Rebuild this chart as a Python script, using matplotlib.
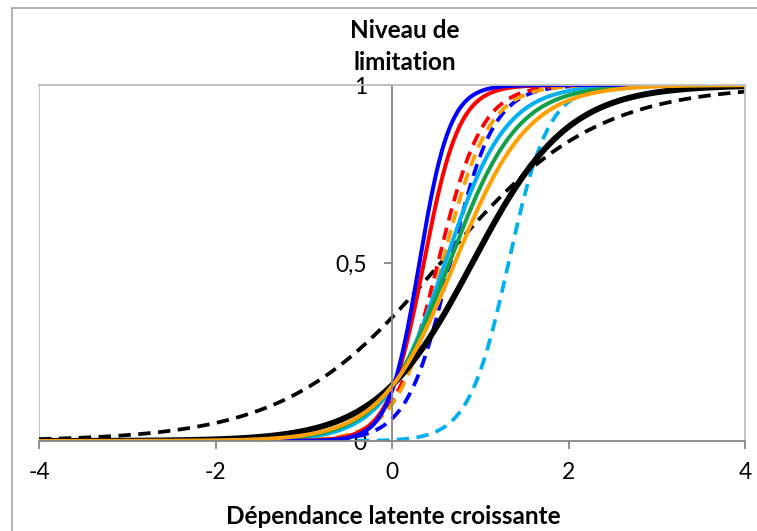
import numpy as np
import matplotlib
matplotlib.use("Agg")
import matplotlib.pyplot as plt
from matplotlib.lines import Line2D

plt.rcParams['font.family'] = ['Lato', 'DejaVu Sans']

# ---- data: item characteristic curves ----
curve_colors = ['#000000', '#00B0F0', '#0000FF', '#FF0000', '#FFA000',
                '#000000', '#00B0F0', '#12A04A', '#FF0000', '#0000FF', '#FFA000']
curve_styles = ['dashed', 'dashed', 'dashed', 'dashed', 'dashed',
                'solid', 'solid', 'solid', 'solid', 'solid', 'solid']
discrimination = [1.15, 4.4, 4.1, 4.0, 3.8, 1.85, 2.9, 2.6, 5.0, 5.8, 2.4]
difficulty = [0.55, 1.32, 0.66, 0.52, 0.57, 0.91, 0.60, 0.65, 0.36, 0.31, 0.71]

x_ticks = [-4, -2, 0, 2, 4]
x_tick_labels = ['-4', '-2', '0', '2', '4']
y_ticks = [0, 0.5, 1]
y_tick_labels = ['0', '0,5', '1']

W, H = 757, 531
fig = plt.figure(figsize=(W / 100, H / 100), dpi=100)
ax = fig.add_axes([39 / W, 1 - 441 / H, (745 - 39) / W, (441 - 85) / H])

theta = np.linspace(-4, 4, 801)
for col, st, a, b in zip(curve_colors, curve_styles, discrimination, difficulty):
    p = 1.0 / (1.0 + np.exp(-a * (theta - b)))
    if st == 'dashed':
        ax.plot(theta, p, color=col, lw=2.7, linestyle=(0, (3.3, 2.0)),
                dash_capstyle='butt')
    else:
        lw = 4.3 if col == '#000000' else 2.9
        ax.plot(theta, p, color=col, lw=lw, solid_capstyle='round')

ax.set_xlim(-4, 4)
ax.set_ylim(0, 1)

# spines
ax.spines['left'].set_position(('data', 0))
ax.spines['left'].set_color('#868686')
ax.spines['left'].set_linewidth(1.3)
ax.spines['bottom'].set_color('#868686')
ax.spines['bottom'].set_linewidth(1.3)
ax.spines['top'].set_color('#BFBFBF')
ax.spines['right'].set_color('#BFBFBF')
ax.spines['top'].set_linewidth(1.3)
ax.spines['right'].set_linewidth(1.3)
ax.axvline(-4, color='#BFBFBF', lw=1.3, zorder=0)

ax.set_xticks(x_ticks)
ax.set_xticklabels(x_tick_labels)
ax.set_yticks(y_ticks)
ax.set_yticklabels(y_tick_labels)
ax.tick_params(axis='x', direction='out', length=6, width=1.3, color='#868686',
               labelsize=16.5, pad=9)
ax.tick_params(axis='y', direction='out', length=6, width=1.3, color='#868686',
               labelsize=16.5, pad=12)

# titles
fig.text(405 / W, 1 - 31 / H, 'Niveau de', ha='center', va='center',
         fontsize=17.5, fontweight='bold')
fig.text(405 / W, 1 - 63 / H, 'limitation', ha='center', va='center',
         fontsize=17.5, fontweight='bold')
fig.text(393 / W, 1 - 517 / H, 'Dépendance latente croissante', ha='center',
         va='center', fontsize=17.5, fontweight='bold')

# chart area border (left and top visible)
fig.add_artist(Line2D([12 / W, 12 / W], [0, 1 - 8 / H], transform=fig.transFigure,
                      color='#A6A6A6', lw=1.2))
fig.add_artist(Line2D([12 / W, 1], [1 - 8 / H, 1 - 8 / H], transform=fig.transFigure,
                      color='#A6A6A6', lw=1.2))

fig.savefig('out.png', dpi=100)
